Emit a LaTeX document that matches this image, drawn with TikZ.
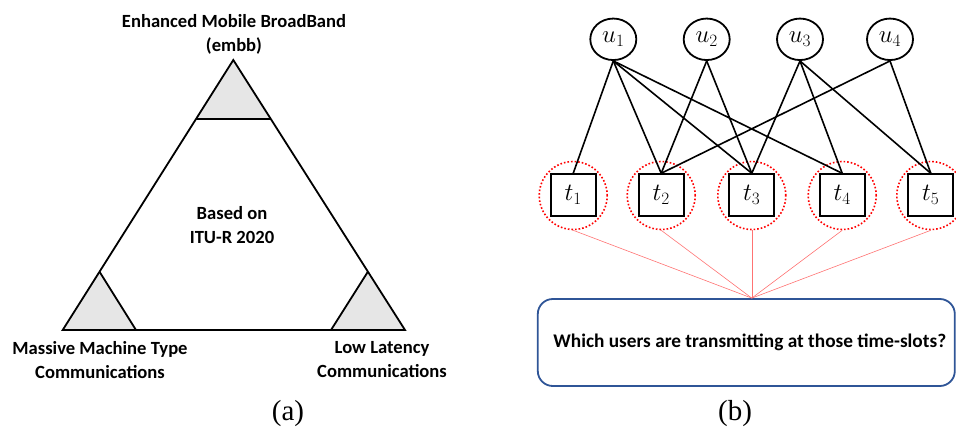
\documentclass[tikz,border=0pt]{standalone}
\usepackage{fontspec}
\setmainfont{Carlito}
\newfontfamily\capfont{Liberation Serif}
\usetikzlibrary{shapes.geometric}
\definecolor{boxblue}{RGB}{47,85,151}
\definecolor{tri}{RGB}{230,230,230}
\tikzset{
  lbl/.style={font=\fontsize{18.6}{24}\selectfont\bfseries, align=center, inner sep=0pt},
  subcap/.style={font=\capfont\fontsize{29}{30}\selectfont, inner sep=0pt},
  unode/.style={ellipse, draw, line width=1.8pt, minimum width=46pt, minimum height=41.5pt, inner sep=0pt, font=\fontsize{24}{26}\selectfont},
  tnode/.style={rectangle, draw, line width=1.8pt, minimum width=45pt, minimum height=42pt, inner sep=0pt, font=\fontsize{24}{26}\selectfont},
  ring/.style={circle, draw=red, dotted, line width=1.6pt, minimum size=68pt, inner sep=0pt},
  edge/.style={line width=1.6pt},
  thin red/.style={draw=red!55, line width=0.6pt},
  qbox/.style={rectangle, rounded corners=15pt, draw=boxblue, line width=1.8pt, minimum width=417pt, minimum height=87pt, inner sep=0pt, font=\fontsize{19.3}{22}\selectfont\bfseries}
}
\begin{document}
\begin{tikzpicture}[x=1pt,y=-1pt]
\useasboundingbox (0,0) rectangle (956,437);
% ---- panel (a)
\fill[tri] (233.3,60) -- (196,119) -- (270.8,119) -- cycle;
\fill[tri] (62.7,330) -- (99.5,271.7) -- (136,330) -- cycle;
\fill[tri] (331,330) -- (367.9,271.7) -- (405,330) -- cycle;
\draw[line width=1.8pt, line join=miter] (233.3,60) -- (62.7,330) -- (405,330) -- cycle;
\draw[line width=1.8pt] (196,119) -- (270.8,119);
\draw[line width=1.8pt] (99.5,271.7) -- (136,330);
\draw[line width=1.8pt] (367.9,271.7) -- (331,330);
\node[lbl] (embb) at (234,34) {Enhanced Mobile BroadBand\\(embb)};
\node[lbl] (itu) at (232,225) {Based on\\ITU-R 2020};
\node[lbl] (mmtc) at (100,360) {Massive Machine Type\\Communications};
\node[lbl] (llc) at (382,360) {Low Latency\\Communications};
\node[subcap] (capa) at (288,414) {(a)};
% ---- panel (b)
\node[unode] (u1) at (613.3,39.3) {$u_1$};
\node[unode] (u2) at (706.7,39.3) {$u_2$};
\node[unode] (u3) at (800,39.3) {$u_3$};
\node[unode] (u4) at (890,39.3) {$u_4$};
\foreach \i/\x in {1/573.2,2/661.2,3/751.8,4/842.2,5/930.8}{
  \node[ring] (c\i) at (\x,195.5) {};
  \node[tnode] (t\i) at (\x,195.2) {$t_\i$};
}
\draw[edge] (u1.south) -- (t1.north);
\draw[edge] (u1.south) -- (t2.north);
\draw[edge] (u1.south) -- (t3.north);
\draw[edge] (u1.south) -- (t4.north);
\draw[edge] (u2.south) -- (t2.north);
\draw[edge] (u2.south) -- (t3.north);
\draw[edge] (u3.south) -- (t3.north);
\draw[edge] (u3.south) -- (t4.north);
\draw[edge] (u3.south) -- (t5.north);
\draw[edge] (u4.south) -- (t2.north);
\draw[edge] (u4.south) -- (t5.north);
\node[qbox] (box) at (746.3,342.5) {\hspace*{7pt}Which users are transmitting at those time-slots?};
\coordinate (q) at (c3.south |- box.north);
\foreach \i in {1,...,5}{ \draw[thin red] (c\i.south) -- (q); }
\node[subcap] (capb) at (735,414) {(b)};
\end{tikzpicture}
\end{document}
